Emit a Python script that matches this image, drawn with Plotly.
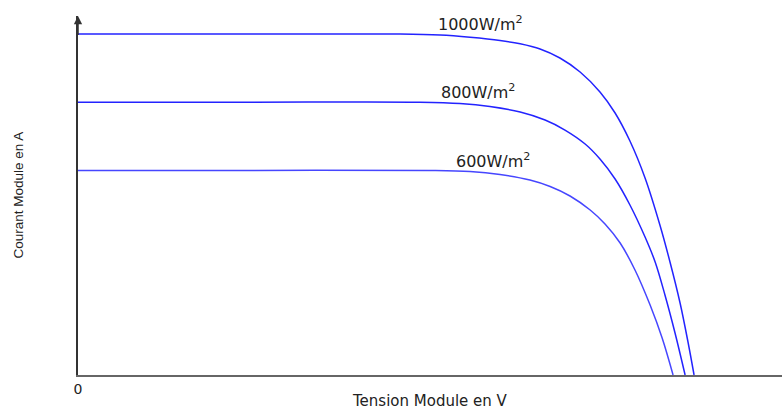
import plotly.graph_objects as go

# I-V characteristics of a PV module for three irradiance levels
v_1000 = [0.0, 6.0, 11.5, 12.93, 14.0, 15.07, 15.79, 16.5, 17.21, 17.93, 18.64, 19.18, 19.71,
          20.25, 20.79, 21.14, 21.5, 21.79, 22.0]
i_1000 = [5.0, 5.0, 5.0, 4.985, 4.952, 4.905, 4.856, 4.78, 4.648, 4.443, 4.15, 3.842, 3.431,
          2.889, 2.185, 1.657, 1.056, 0.469, 0.0]

v_800 = [0.0, 6.0, 12.21, 13.64, 14.71, 15.79, 16.68, 17.39, 18.11, 18.64, 19.18, 19.71,
         20.25, 20.61, 20.96, 21.32, 21.68]
i_800 = [4.0, 4.0, 4.0, 3.981, 3.937, 3.856, 3.739, 3.592, 3.387, 3.167, 2.874, 2.493,
         2.023, 1.657, 1.173, 0.616, 0.0]

v_600 = [0.0, 6.0, 12.57, 14.0, 15.07, 16.14, 16.86, 17.57, 18.29, 18.82, 19.36, 19.89, 20.43, 20.86, 21.25]
i_600 = [3.0, 3.0, 3.0, 2.984, 2.94, 2.859, 2.764, 2.625, 2.419, 2.214, 1.935, 1.54, 1.026, 0.543, 0.0]

labels = ["1000W/m<sup>2</sup>", "800W/m<sup>2</sup>", "600W/m<sup>2</sup>"]
label_x = [14.36, 14.29, 14.82]
label_y = [5.15, 4.16, 3.15]

X_MAX = 25.14
Y_MAX = 5.264

fig = go.Figure()
series = [(v_1000, i_1000, "#2323ff"), (v_800, i_800, "#2323ff"), (v_600, i_600, "#4646ff")]
for (v, i, c), name in zip(series, labels):
    fig.add_trace(go.Scatter(x=v, y=i, mode="lines", name=name,
                             line=dict(color=c, width=1.5, shape="spline", smoothing=1.0),
                             hoverinfo="skip"))

for txt, x, y in zip(labels, label_x, label_y):
    fig.add_annotation(x=x, y=y, text=txt, showarrow=False,
                       font=dict(family="DejaVu Sans", size=16, color="#222"))

# arrowhead at the top of the current axis
fig.add_annotation(x=0, y=Y_MAX, ax=0, ay=Y_MAX - 0.3, axref="x", ayref="y",
                   text="", showarrow=True, arrowhead=2, arrowsize=1.1,
                   arrowwidth=1.5, arrowcolor="#333")

# axis titles
fig.add_annotation(xref="paper", yref="paper", x=0.5, y=0, yshift=-26,
                   xanchor="center", yanchor="middle",
                   text="Tension Module en V", showarrow=False,
                   font=dict(family="DejaVu Sans", size=15, color="#222"))
fig.add_annotation(xref="paper", yref="paper", x=0, y=0.5, xshift=-60,
                   xanchor="center", yanchor="middle",
                   text="Courant Module en A", showarrow=False, textangle=-90,
                   font=dict(family="Liberation Sans", size=13.5, color="#222"))

fig.update_layout(
    width=782, height=410,
    margin=dict(l=78, r=0, t=16, b=35),
    plot_bgcolor="white", paper_bgcolor="white",
    showlegend=False,
    xaxis=dict(range=[0, X_MAX], showgrid=False, zeroline=False,
               showline=True, linecolor="#666", linewidth=2,
               tickvals=[0], ticktext=["0"], ticks="",
               tickfont=dict(family="DejaVu Sans", size=14, color="#222")),
    yaxis=dict(range=[0, Y_MAX], showgrid=False, zeroline=False,
               showline=True, linecolor="#333", linewidth=1.5,
               showticklabels=False, ticks=""),
)

fig.write_html("out.html")
